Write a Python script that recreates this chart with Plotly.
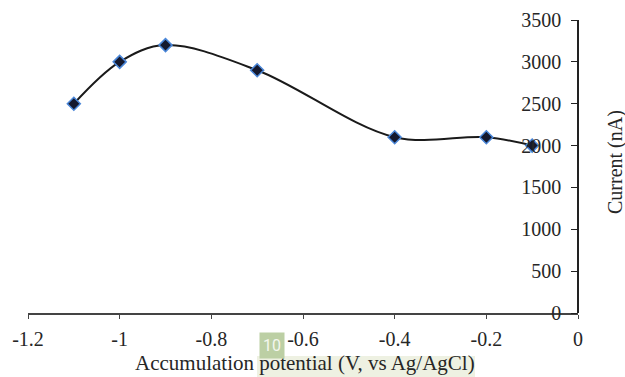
import plotly.graph_objects as go

potential = [-1.1, -1.0, -0.9, -0.7, -0.4, -0.2, -0.1]
current = [2500, 3000, 3200, 2900, 2100, 2100, 2000]
x_ticks = [-1.2, -1.0, -0.8, -0.6, -0.4, -0.2, 0]
x_tick_text = ["-1.2", "-1", "-0.8", "-0.6", "-0.4", "-0.2", "0"]
y_ticks = [0, 500, 1000, 1500, 2000, 2500, 3000, 3500]

font = dict(family="Liberation Serif, Times New Roman, serif", size=20, color="#262626")

W, H = 625, 377
L, R, T, B = 28, 578, 20, 313
PW, PH = R - L, B - T


def px(x):
    return (x - L) / PW


def py(y):
    return (B - y) / PH


fig = go.Figure()
fig.add_trace(go.Scatter(
    x=potential, y=current, mode="lines+markers",
    line=dict(color="#1a1a1a", width=2, shape="spline", smoothing=1.0),
    marker=dict(symbol="diamond", size=10, color="#15192e",
                line=dict(color="#4a86d8", width=1.5)),
    showlegend=False, cliponaxis=False, hoverinfo="skip",
))

fig.update_layout(
    width=W, height=H,
    margin=dict(l=L, r=W - R, t=T, b=H - B, autoexpand=False),
    paper_bgcolor="white", plot_bgcolor="white",
    font=font,
    xaxis=dict(range=[-1.2, 0], tickvals=x_ticks, ticktext=x_tick_text,
               domain=[0, 1],
               showgrid=False, zeroline=False, showline=True, linecolor="#444444",
               linewidth=1.5, ticks="outside", ticklen=4, tickcolor="#444444",
               ticklabelstandoff=3, tickfont=font),
    yaxis=dict(range=[0, 3500], tickvals=y_ticks, side="left",
               anchor="free", position=1,
               showgrid=False, zeroline=False,
               showline=True, linecolor="#222222", linewidth=1.5, ticks="outside",
               ticklen=6, tickcolor="#222222", ticklabelstandoff=6, tickfont=font),
    shapes=[dict(type="rect", xref="paper", yref="paper", layer="below",
                 x0=px(257), x1=px(475), y0=py(377), y1=py(356),
                 fillcolor="#eef1e2", line=dict(width=0))],
    annotations=[
        dict(text="Accumulation potential (V, vs Ag/AgCl)", xref="paper", yref="paper",
             x=px(305), y=py(376), showarrow=False, borderpad=0,
             font=dict(family=font["family"], size=21, color=font["color"]),
             xanchor="center", yanchor="bottom"),
        dict(text="Current (nA)", xref="paper", yref="paper", textangle=-90,
             x=px(615), y=py(162), showarrow=False,
             font=font, xanchor="center", yanchor="middle"),
        dict(text="10", xref="paper", yref="paper",
             x=px(272), y=py(345), showarrow=False,
             font=dict(family="Roboto, sans-serif", size=16, color="#f4f7ee"),
             bgcolor="#bccfa4", borderpad=3, xanchor="center", yanchor="middle"),
    ],
)

fig.write_html("out.html", config={"displayModeBar": False},
               post_script="document.body.style.margin='0';")
